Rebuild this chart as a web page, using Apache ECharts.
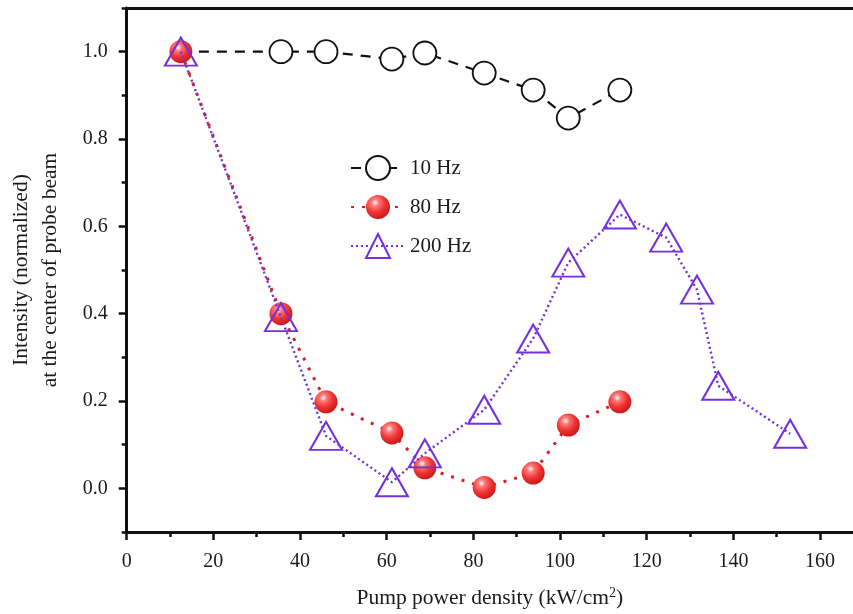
<!DOCTYPE html>
<html>
<head>
<meta charset="utf-8">
<script src="https://cdn.jsdelivr.net/npm/echarts@6/dist/echarts.min.js"></script>
<style>html,body{margin:0;padding:0;background:#fff}#c{width:853px;height:614px}</style>
</head>
<body>
<div id="c"></div>
<script>
// Data
const x10 = [12.5, 35.6, 46.0, 61.2, 68.8, 82.5, 93.8, 101.9, 113.8];
const y10 = [1.0, 1.0, 1.0, 0.983, 0.997, 0.951, 0.912, 0.848, 0.912];
const x80 = [12.5, 35.6, 46.0, 61.2, 68.8, 82.5, 93.8, 101.9, 113.8];
const y80 = [1.0, 0.400, 0.198, 0.127, 0.047, 0.002, 0.035, 0.145, 0.198];
const x200 = [12.5, 35.6, 46.0, 61.2, 68.8, 82.5, 93.8, 101.9, 113.8, 124.5, 131.6, 136.5, 153.1];
const y200 = [1.0, 0.392, 0.120, 0.014, 0.080, 0.180, 0.343, 0.517, 0.627, 0.574, 0.455, 0.235, 0.125];
const xTicks = [0, 20, 40, 60, 80, 100, 120, 140, 160];
const xMinor = [10, 30, 50, 70, 90, 110, 130, 150];
const yTicks = [0.0, 0.2, 0.4, 0.6, 0.8, 1.0];
const yMinor = [-0.1, 0.1, 0.3, 0.5, 0.7, 0.9, 1.1];
const names = ['10 Hz', '80 Hz', '200 Hz'];

const zip = (xs, ys) => xs.map((v, i) => [v, ys[i]]);
const FONT = 'Liberation Serif';
const TXT = '#1a1a1a';
const XMIN = 0, XMAX = 167.6, YMIN = -0.1, YMAX = 1.1;
const sphere = {
  type: 'radial', x: 0.38, y: 0.32, r: 0.68,
  colorStops: [
    {offset: 0, color: '#ffffff'},
    {offset: 0.22, color: '#ff7a7a'},
    {offset: 0.6, color: '#ee3535'},
    {offset: 1, color: '#d01818'}
  ]
};
const purple = '#7330dc';

// first 10 Hz point is hidden under the triangle in the reference
const data10 = zip(x10, y10).map((p, i) => i === 0 ? {value: p, symbolSize: 0} : p);

const chart = echarts.init(document.getElementById('c'));
const baseX = {type: 'value', min: XMIN, max: XMAX, splitLine: {show: false}};
const baseY = {type: 'value', min: YMIN, max: YMAX, splitLine: {show: false}};
chart.setOption({
  backgroundColor: '#fff',
  animation: false,
  grid: {left: 126.7, right: 0, top: 8, bottom: 82, containLabel: false, outerBoundsMode: 'none'},
  legend: {
    orient: 'vertical', left: 345, top: 150,
    itemWidth: 54, itemHeight: 30, itemGap: 14,
    textStyle: {fontFamily: FONT, fontSize: 21, color: TXT},
    data: names
  },
  xAxis: [
    Object.assign({}, baseX, {
      position: 'bottom',
      name: '{a|Pump power density (kW/cm}{s|2}{a|)}',
      nameLocation: 'middle', nameGap: 54,
      nameTextStyle: {rich: {
        a: {fontFamily: FONT, fontSize: 21.5, color: TXT},
        s: {fontFamily: FONT, fontSize: 14, color: TXT, verticalAlign: 'bottom', padding: [0, 0, 10, 0]}
      }},
      axisLine: {show: true, onZero: false, lineStyle: {color: '#111', width: 3}},
      axisTick: {show: true, inside: false, length: 8, lineStyle: {color: '#111', width: 2.5}, customValues: xTicks},
      axisLabel: {show: true, margin: 20, fontFamily: FONT, fontSize: 20, color: TXT, customValues: xTicks}
    }),
    Object.assign({}, baseX, {
      position: 'bottom',
      axisLine: {show: false, onZero: false},
      axisTick: {show: true, length: 5, lineStyle: {color: '#111', width: 2.5}, customValues: xMinor},
      axisLabel: {show: false}
    }),
    Object.assign({}, baseX, {
      position: 'top',
      axisLine: {show: true, onZero: false, lineStyle: {color: '#111', width: 3}},
      axisTick: {show: false},
      axisLabel: {show: false}
    })
  ],
  yAxis: [
    Object.assign({}, baseY, {
      position: 'left',
      name: 'Intensity (normalized)\nat the center of probe beam',
      nameLocation: 'middle', nameGap: 62, nameRotate: 90,
      nameTextStyle: {fontFamily: FONT, fontSize: 21.5, color: TXT, lineHeight: 29, align: 'center'},
      axisLine: {show: true, onZero: false, lineStyle: {color: '#111', width: 3}},
      axisTick: {show: true, length: 8, lineStyle: {color: '#111', width: 2.5}, customValues: yTicks},
      axisLabel: {show: true, margin: 19, fontFamily: FONT, fontSize: 20, color: TXT,
        customValues: yTicks, formatter: v => v.toFixed(1)}
    }),
    Object.assign({}, baseY, {
      position: 'left',
      axisLine: {show: false, onZero: false},
      axisTick: {show: true, length: 5, lineStyle: {color: '#111', width: 2.5}, customValues: yMinor},
      axisLabel: {show: false}
    })
  ],
  series: [
    {
      name: names[0], type: 'line', xAxisIndex: 0, yAxisIndex: 0,
      data: data10,
      symbol: 'circle', symbolSize: 23,
      lineStyle: {color: '#111', width: 2.2, type: [10, 8]},
      itemStyle: {color: '#fff', borderColor: '#111', borderWidth: 1.8},
      z: 3
    },
    {
      name: names[1], type: 'line', xAxisIndex: 0, yAxisIndex: 0,
      data: zip(x80, y80),
      symbol: 'circle', symbolSize: 23,
      lineStyle: {color: '#d42020', width: 3, type: [3, 8]},
      itemStyle: {color: sphere, borderWidth: 0},
      z: 4
    },
    {
      name: names[2], type: 'line', xAxisIndex: 0, yAxisIndex: 0,
      data: zip(x200, y200),
      symbol: 'triangle', symbolSize: [32, 28],
      lineStyle: {color: purple, width: 2.4, type: [2, 3]},
      itemStyle: {color: 'rgba(255,255,255,0)', borderColor: purple, borderWidth: 2},
      z: 5
    }
  ]
});
</script>
</body>
</html>
